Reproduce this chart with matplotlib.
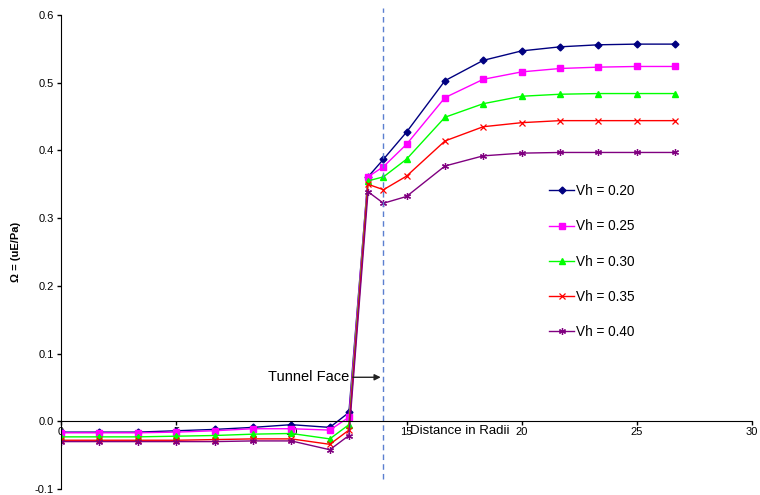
import matplotlib
matplotlib.use('Agg')
from matplotlib import pyplot as plt

plt.rcParams['font.family'] = ['Liberation Sans', 'DejaVu Sans']

# distance from tunnel face (radii) and Omega for each Vh
x = [0, 1.67, 3.33, 5, 6.67, 8.33, 10, 11.67, 12.5, 13.33, 14, 15,
     16.67, 18.33, 20, 21.67, 23.33, 25, 26.67]
vh_020 = [-0.016, -0.016, -0.016, -0.014, -0.012, -0.009, -0.005, -0.009, 0.013,
          0.361, 0.387, 0.427, 0.503, 0.533, 0.547, 0.553, 0.556, 0.557, 0.557]
vh_025 = [-0.017, -0.017, -0.017, -0.016, -0.014, -0.011, -0.011, -0.013, 0.006,
          0.361, 0.376, 0.409, 0.478, 0.505, 0.516, 0.521, 0.523, 0.524, 0.524]
vh_030 = [-0.023, -0.023, -0.023, -0.022, -0.021, -0.019, -0.018, -0.026, -0.005,
          0.355, 0.361, 0.387, 0.449, 0.469, 0.480, 0.483, 0.484, 0.484, 0.484]
vh_035 = [-0.028, -0.028, -0.028, -0.028, -0.027, -0.026, -0.026, -0.034, -0.013,
          0.350, 0.342, 0.362, 0.414, 0.435, 0.441, 0.444, 0.444, 0.444, 0.444]
vh_040 = [-0.030, -0.030, -0.030, -0.030, -0.030, -0.029, -0.029, -0.042, -0.021,
          0.339, 0.322, 0.332, 0.377, 0.392, 0.396, 0.397, 0.397, 0.397, 0.397]
labels = ['Vh = 0.20', 'Vh = 0.25', 'Vh = 0.30', 'Vh = 0.35', 'Vh = 0.40']
face_x = 14

fig = plt.figure(figsize=(7.6, 4.95), dpi=100)
ax = fig.add_axes([61 / 760, 6 / 495, 691 / 760, 474 / 495])

ax.plot(x, vh_020, color='#000080', marker='D', ms=3.5, lw=1, label=labels[0])
ax.plot(x, vh_025, color='#FF00FF', marker='s', ms=5, lw=1, label=labels[1])
ax.plot(x, vh_030, color='#00FF00', marker='^', ms=4.5, lw=1, label=labels[2])
ax.plot(x, vh_035, color='#FF0000', marker='x', ms=4.5, mew=0.9, lw=1, label=labels[3])
ax.plot(x, vh_040, color='#800080', marker=(6, 2, 0), ms=5, mew=0.9, lw=1, label=labels[4])

# tunnel face location
ax.plot([face_x, face_x], [-0.085, 0.61], color='#5B7FD0', ls=(0, (4, 3)), lw=1, clip_on=False)
ax.annotate('', xy=(face_x, 0.065), xytext=(12.55, 0.065),
            arrowprops=dict(arrowstyle='-|>', color='#222222', lw=1, mutation_scale=9))
ax.text(12.5, 0.065, 'Tunnel Face', ha='right', va='center', fontsize=10.5)
ax.text(15.15, -0.015, 'Distance in Radii', ha='left', va='center', fontsize=9.5)

ax.set_xlim(0, 30)
ax.set_ylim(-0.1, 0.6)
ax.set_xticks(range(0, 31, 5))
ax.set_yticks([-0.1, 0.0, 0.1, 0.2, 0.3, 0.4, 0.5, 0.6])
ax.set_yticklabels(['-0.1', '0.0', '0.1', '0.2', '0.3', '0.4', '0.5', '0.6'])
ax.spines['bottom'].set_position(('data', 0))
ax.spines['top'].set_visible(False)
ax.spines['right'].set_visible(False)
ax.tick_params(labelsize=8, length=3, width=1, direction='out', pad=2)
ax.tick_params(axis='x', pad=1)
ax.set_ylabel('Ω = (uE/Pa)', fontsize=8, fontweight='bold', labelpad=10)

ax.legend(loc='upper left', bbox_to_anchor=(537 / 760, 1 - 172 / 495),
          bbox_transform=fig.transFigure, frameon=False, fontsize=9.8,
          labelspacing=1.56, handlelength=1.8, handletextpad=0.2)

fig.savefig('out.png', dpi=100)
